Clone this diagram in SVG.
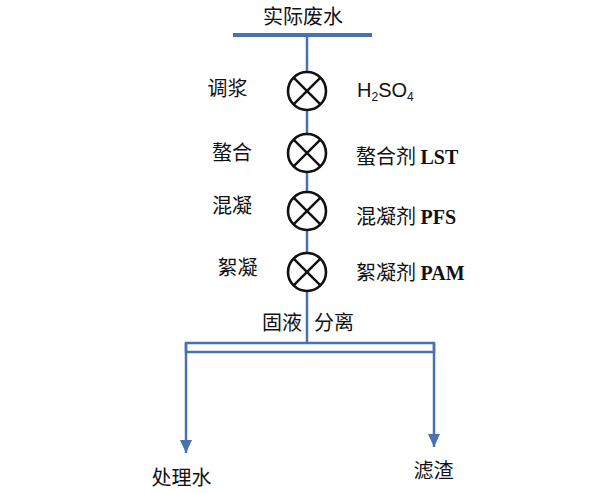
<svg xmlns="http://www.w3.org/2000/svg" width="600" height="493" viewBox="0 0 600 493">
<style>
.pipe{stroke:#4a72ad;fill:none}
.valve circle{fill:#fff;stroke:#111;stroke-width:2.6}
.valve line{stroke:#111;stroke-width:2.4}
.t{font-family:"Noto Sans CJK SC","Liberation Sans",sans-serif;font-size:20px;fill:#111}
.s{font-family:"Noto Sans CJK SC","Liberation Serif",serif;font-size:20px;fill:#111}
.lat{font-family:"Liberation Serif",serif;font-weight:bold}
.h{font-family:"Liberation Sans",Arial,sans-serif;font-size:20px;fill:#111}
</style>
<defs>
<marker id="ah" viewBox="0 0 13 12" refX="13" refY="6" markerWidth="13" markerHeight="12" markerUnits="userSpaceOnUse" orient="auto">
<path d="M0,0 L13,6 L0,12 Z" fill="#4a72ad"/>
</marker>
</defs>
<rect width="600" height="493" fill="#fff"/>
<g id="connectors">
<line class="pipe" x1="233" y1="35" x2="372" y2="35" stroke-width="4"/>
<line class="pipe" x1="307" y1="35" x2="307" y2="343" stroke-width="2.5"/>
<rect class="pipe" x="186" y="343" width="248" height="9" stroke-width="2.5"/>
<line class="pipe" x1="186" y1="343" x2="186" y2="453" stroke-width="2.5" marker-end="url(#ah)"/>
<line class="pipe" x1="434" y1="343" x2="434" y2="447" stroke-width="2.5" marker-end="url(#ah)"/>
</g>
<g id="source"><text class="t" x="303" y="24" text-anchor="middle" font-size="21">实际废水</text></g>
<g id="valve1" class="valve">
<circle cx="307" cy="91" r="19"/>
<line x1="293.6" y1="77.6" x2="320.4" y2="104.4"/><line x1="320.4" y1="77.6" x2="293.6" y2="104.4"/>
<text class="t" x="227.5" y="96" text-anchor="middle">调浆</text>
<text class="h" x="357" y="97">H<tspan font-size="12" dy="4">2</tspan><tspan dy="-4">SO</tspan><tspan font-size="12" dy="4">4</tspan></text>
</g>
<g id="valve2" class="valve">
<circle cx="307" cy="153" r="19"/>
<line x1="293.6" y1="139.6" x2="320.4" y2="166.4"/><line x1="320.4" y1="139.6" x2="293.6" y2="166.4"/>
<text class="s" x="232" y="160" text-anchor="middle">螯合</text>
<text class="s" x="356" y="164">螯合剂 <tspan class="lat">LST</tspan></text>
</g>
<g id="valve3" class="valve">
<circle cx="307" cy="211" r="19"/>
<line x1="293.6" y1="197.6" x2="320.4" y2="224.4"/><line x1="320.4" y1="197.6" x2="293.6" y2="224.4"/>
<text class="s" x="232" y="213" text-anchor="middle">混凝</text>
<text class="s" x="356" y="224">混凝剂 <tspan class="lat">PFS</tspan></text>
</g>
<g id="valve4" class="valve">
<circle cx="307" cy="272" r="19"/>
<line x1="293.6" y1="258.6" x2="320.4" y2="285.4"/><line x1="320.4" y1="258.6" x2="293.6" y2="285.4"/>
<text class="s" x="237.5" y="275" text-anchor="middle">絮凝</text>
<text class="s" x="356" y="280">絮凝剂 <tspan class="lat">PAM</tspan></text>
</g>
<g id="separation"><text class="t" x="262" y="330" font-size="21">固液</text><text class="t" x="314" y="330" font-size="21">分离</text></g>
<g id="out1"><text class="t" x="181.5" y="485" text-anchor="middle" font-size="21">处理水</text></g>
<g id="out2"><text class="s" x="433.5" y="478" text-anchor="middle" font-size="21">滤渣</text></g>
</svg>
